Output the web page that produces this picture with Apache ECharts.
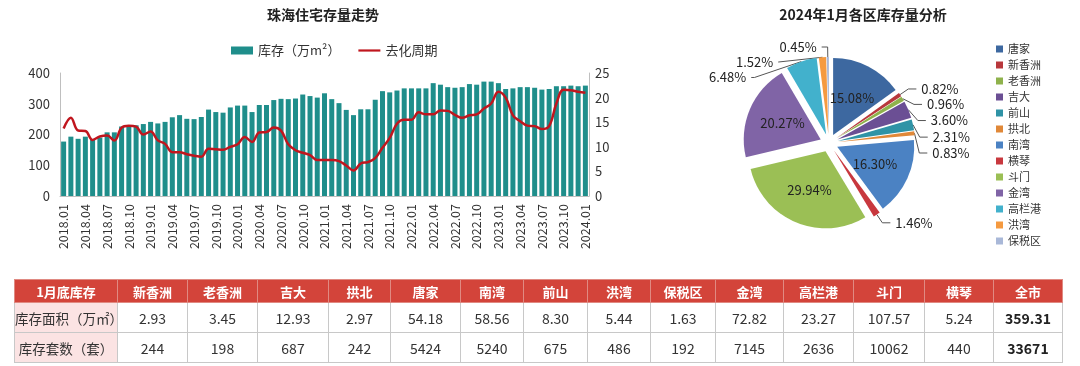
<!DOCTYPE html>
<html>
<head>
<meta charset="utf-8">
<script src="https://cdn.jsdelivr.net/npm/echarts@6/dist/echarts.min.js"></script>
<style>
html,body{margin:0;padding:0;background:#fff;}
#wrap{position:relative;width:1080px;height:366px;overflow:hidden;font-family:"Noto Sans CJK SC","Noto Sans",sans-serif;}
#chart{position:absolute;left:0;top:0;width:1080px;height:366px;}
#tbl{position:absolute;left:14px;top:279px;border-collapse:collapse;table-layout:fixed;font-family:"Noto Sans CJK SC","Noto Sans",sans-serif;}
#tbl td,#tbl th{border:1px solid #c8c8c8;text-align:center;padding:0;color:#333;font-weight:normal;}
#tbl th{background:#d3443a;color:#fff;font-weight:bold;font-size:13px;height:22px;border-color:#e08a82;}
#tbl td{font-size:14px;height:29px;}
#tbl td.lab{background:#fbe3e3;font-size:13.5px;white-space:nowrap;}
#tbl td.tot{font-weight:bold;color:#222;}
</style>
</head>
<body>
<div id="wrap">
<div id="chart"></div>
<table id="tbl"></table>
</div>
<script>
// ---- data ----
const months = [];
for (let y = 2018; y <= 2024; y++) {
  for (let m = 1; m <= 12; m++) {
    if (y === 2024 && m > 1) break;
    months.push(y + '.' + (m < 10 ? '0' + m : m));
  }
}
const inventory = [
  177,193,186,193,184,190,207,207,226,228,230,234,
  241,236,241,256,263,251,250,257,281,273,271,288,
  294,294,273,296,296,312,316,315,317,330,325,320,
  334,315,302,280,263,282,282,313,341,337,343,350,
  350,350,350,367,362,354,352,354,364,362,372,372,
  367,348,350,354,354,352,346,348,357,357,359,357,
  359
];
const cycle = [
  13.7,15.9,13.3,13.2,11.4,12.1,12.3,11.3,13.9,14.3,14.1,12.5,
  13.1,11.3,10.6,8.9,8.9,8.5,8.2,8.0,9.6,9.5,9.4,10.0,
  10.5,12.0,11.0,12.9,13.0,13.9,13.3,10.5,9.3,8.8,8.3,7.3,
  7.3,7.3,7.1,6.2,5.2,6.6,6.9,7.7,9.8,11.8,14.7,15.5,
  15.5,17.0,16.6,16.6,17.4,17.3,16.5,15.9,16.4,16.6,17.8,18.8,
  21.2,20.0,16.4,15.2,14.3,14.2,13.6,14.2,18.8,21.6,21.5,21.2,
  21.0
];
const leftTicks = [0, 100, 200, 300, 400];
const rightTicks = [0, 5, 10, 15, 20, 25];

const districts = ['唐家','新香洲','老香洲','吉大','前山','拱北','南湾','横琴','斗门','金湾','高栏港','洪湾','保税区'];
const shares = [15.08,0.82,0.96,3.60,2.31,0.83,16.30,1.46,29.94,20.27,6.48,1.52,0.45];
const pieColors = ['#3d68a0','#b8383c','#8fb24c','#6b4f94','#2f93a6','#e08838','#4b82c3','#c8383e','#9bbf55','#8064a6','#42b1cc','#f59a40','#a9b8d8'];

const tableDistricts = ['新香洲','老香洲','吉大','拱北','唐家','南湾','前山','洪湾','保税区','金湾','高栏港','斗门','横琴','全市'];
const tableArea = ['2.93','3.45','12.93','2.97','54.18','58.56','8.30','5.44','1.63','72.82','23.27','107.57','5.24','359.31'];
const tableUnits = ['244','198','687','242','5424','5240','675','486','192','7145','2636','10062','440','33671'];
const tableWidths = [103,70,70,71,62,70,63,64,63,65,68,70,71,69,69];

// ---- table ----
(function(){
  const t = document.getElementById('tbl');
  let cg = '<colgroup>' + tableWidths.map(w => '<col style="width:' + w + 'px">').join('') + '</colgroup>';
  let h = '<tr><th>1月底库存</th>' + tableDistricts.map(d => '<th>' + d + '</th>').join('') + '</tr>';
  let r1 = '<tr><td class="lab">库存面积（万㎡）</td>' + tableArea.map((v,i) => '<td' + (i === tableArea.length-1 ? ' class="tot"' : '') + '>' + v + '</td>').join('') + '</tr>';
  let r2 = '<tr><td class="lab">库存套数（套）</td>' + tableUnits.map((v,i) => '<td' + (i === tableUnits.length-1 ? ' class="tot"' : '') + '>' + v + '</td>').join('') + '</tr>';
  t.innerHTML = cg + h + r1 + r2;
  t.style.width = tableWidths.reduce((a,b)=>a+b,0) + 'px';
})();

// ---- chart ----
const chart = echarts.init(document.getElementById('chart'), null, {renderer:'canvas'});
const font = '"Noto Sans CJK SC","Noto Sans",sans-serif';
const bigSet = {'唐家':1,'南湾':1,'斗门':1,'金湾':1};
// extra leader length for the small slices at the top-left, as in the reference
const leaderLen2 = {'高栏港':14, '洪湾':6, '保税区':6};
chart.setOption({
  animation: false,
  textStyle: {fontFamily: font},
  title: [
    {text:'珠海住宅存量走势', left:318, top:3, textAlign:'center',
     textStyle:{fontSize:14, fontWeight:'bold', color:'#222', fontFamily:font}},
    {text:'2024年1月各区库存量分析', left:858, top:3, textAlign:'center',
     textStyle:{fontSize:14, fontWeight:'bold', color:'#222', fontFamily:font}}
  ],
  legend: [
    {left:226, top:39, itemGap:18, itemWidth:22, itemHeight:8,
     textStyle:{fontSize:13, color:'#333', fontFamily:font},
     data:[{name:'库存（万m²）', icon:'rect'},
           {name:'去化周期', icon:'path://M0,0H30V3H0Z'}]},
    {orient:'vertical', left:991, top:38, itemWidth:7, itemHeight:7, itemGap:4, icon:'rect',
     selectedMode:false,
     textStyle:{fontSize:11, color:'#333', fontFamily:font, lineHeight:12},
     data: districts}
  ],
  grid: {left:60, right:491, top:73, bottom:170},
  xAxis: {
    type:'category', data: months, boundaryGap:true,
    axisLine:{lineStyle:{color:'#bfbfbf'}},
    axisTick:{show:false},
    axisLabel:{interval:2, rotate:90, fontSize:12.5, color:'#333', margin:8, fontFamily:font}
  },
  yAxis: [
    {type:'value', min:leftTicks[0], max:leftTicks[leftTicks.length-1], interval:100,
     axisLine:{show:true, lineStyle:{color:'#bfbfbf'}}, axisTick:{show:false},
     splitLine:{show:false},
     axisLabel:{fontSize:13, color:'#333', margin:10, fontFamily:font}},
    {type:'value', min:rightTicks[0], max:rightTicks[rightTicks.length-1], interval:5,
     axisLine:{show:true, lineStyle:{color:'#bfbfbf'}}, axisTick:{show:false},
     splitLine:{show:false},
     axisLabel:{fontSize:13, color:'#333', margin:6, fontFamily:font}}
  ],
  series: [
    {name:'库存（万m²）', type:'bar', data: inventory, barWidth:5,
     itemStyle:{color:'#1f8e8b'}},
    {name:'去化周期', type:'line', yAxisIndex:1, data: cycle, smooth:0.4,
     symbol:'none', lineStyle:{color:'#c0161e', width:2.5}, itemStyle:{color:'#c0161e'}},
    {name:'pie', type:'pie', center:[829,143], radius:[0,77], startAngle:90, clockwise:true,
     selectedMode:'multiple', selectedOffset:9,
     avoidLabelOverlap:true,
     label:{fontSize:13, color:'#222', fontFamily:font},
     labelLine:{length:10, length2:8, lineStyle:{color:'#555', width:1}},
     emphasis:{disabled:true},
     data: districts.map((d,i) => ({
       name:d, value:shares[i], selected:true,
       itemStyle:{color:pieColors[i]},
       label: bigSet[d] ? {position:'inside', formatter: p => p.value.toFixed(2)+'%', fontSize:13, color:'#222'}
                        : {position:'outside', formatter: p => p.value.toFixed(2)+'%'},
       labelLine: bigSet[d] ? {show:false} : {show:true, length2: leaderLen2[d] || 8}
     }))}
  ]
});
</script>
</body>
</html>
